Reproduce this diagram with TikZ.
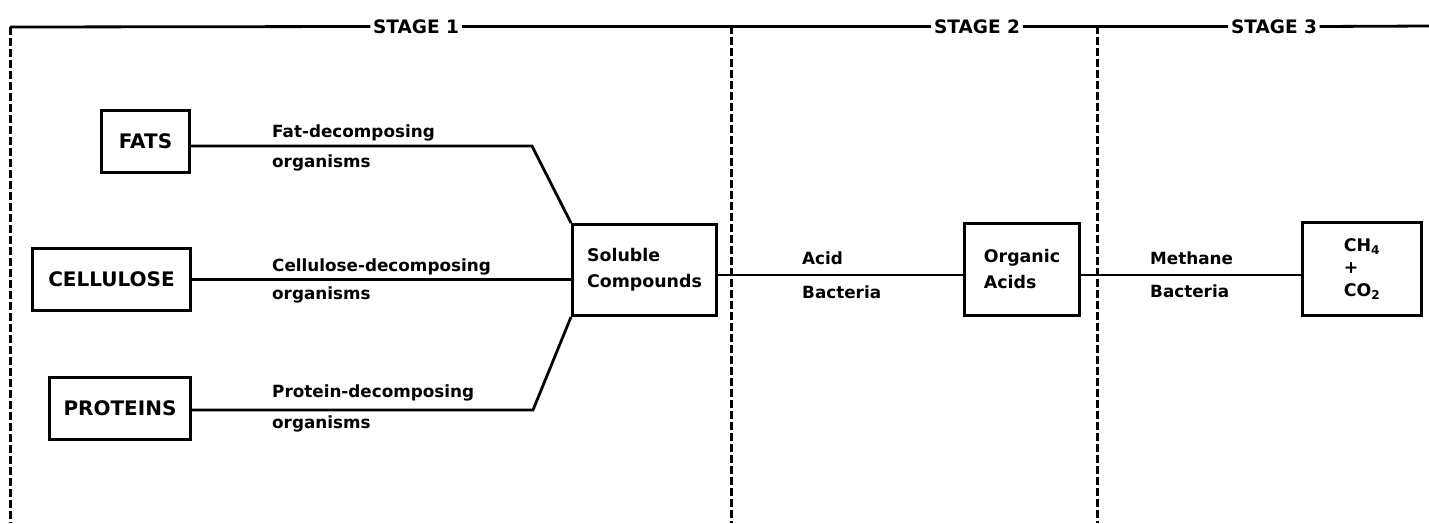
\documentclass[tikz,border=0pt]{standalone}
\usepackage{fontspec}
\setmainfont{DejaVu Sans}
\begin{document}
\begin{tikzpicture}[x=1pt,y=-1pt,
  box/.style={draw, line width=3pt, inner sep=0pt, font=\bfseries\fontsize{20}{24}\selectfont},
  cbox/.style={draw, line width=3pt, inner sep=0pt, align=left, font=\bfseries\fontsize{17.4}{26}\selectfont},
  conn/.style={line width=2.8pt},
  divider/.style={line width=3pt, dash pattern=on 8pt off 3pt},
  lab/.style={anchor=base west, inner sep=0pt, font=\bfseries\fontsize{16.8}{20}\selectfont},
  stage/.style={inner sep=2.5pt, font=\bfseries\fontsize{18.5}{20}\selectfont}]
\useasboundingbox (0,0) rectangle (1429,523);
% stage header
\node[stage] (st1) at (416,26.5) {STAGE 1};
\node[stage] (st2) at (977,26.5) {STAGE 2};
\node[stage] (st3) at (1274,26.5) {STAGE 3};
\coordinate (tl) at (10,27);
\coordinate (tr) at (1429,26);
\coordinate (bl) at (10,523);
\coordinate (d1t) at (731,26);
\coordinate (d1b) at (731,523);
\coordinate (d2t) at (1097,26);
\coordinate (d2b) at (1097,523);
\draw[conn] (st1.west) -- (tl);
\draw[conn] (st1.east) -- (st2.west);
\draw[conn] (st2.east) -- (st3.west);
\draw[conn] (st3.east) -- (tr);
\draw[divider] (tl) -- (bl);
\draw[divider] (d1t) -- (d1b);
\draw[divider] (d2t) -- (d2b);
% boxes
\node[box, minimum width=88pt, minimum height=62pt] (fats) at (145.5,141.5) {FATS};
\node[box, minimum width=158pt, minimum height=62pt] (cell) at (111.5,279.5) {CELLULOSE};
\node[box, minimum width=141pt, minimum height=62pt] (prot) at (120,408.5) {PROTEINS};
\node[cbox, minimum width=144pt, minimum height=91pt] (sol) at (644.5,270) {Soluble\\Compounds};
\node[cbox, minimum width=115pt, minimum height=92pt] (org) at (1022,269.5) {Organic\\Acids};
\node[cbox, minimum width=119pt, minimum height=93pt, font=\bfseries\fontsize{17.4}{22.5}\selectfont] (ch) at (1362,269) {CH\textsubscript{4}\\+\\CO\textsubscript{2}};
% connectors
\coordinate (fk) at (532,146);
\coordinate (pk) at (533,410);
\coordinate (ay) at (0,275);
\draw[conn] (fats.east |- fk) -- (fk) -- (sol.north west);
\draw[conn] (cell.east) -- (cell.east -| sol.west);
\draw[conn] (prot.east |- pk) -- (pk) -- (sol.south west);
\draw[conn] (sol.east |- ay) -- (org.west |- ay);
\draw[conn] (org.east |- ay) -- (ch.west |- ay);
% labels
\node[lab] (l1a) at (272,137) {Fat-decomposing};
\node[lab] (l1b) at (272,167) {organisms};
\node[lab] (l2a) at (272,271) {Cellulose-decomposing};
\node[lab] (l2b) at (272,299) {organisms};
\node[lab] (l3a) at (272,397) {Protein-decomposing};
\node[lab] (l3b) at (272,428) {organisms};
\node[lab] (l4a) at (802,264) {Acid};
\node[lab] (l4b) at (802,298) {Bacteria};
\node[lab] (l5a) at (1150,264) {Methane};
\node[lab] (l5b) at (1150,297) {Bacteria};
\end{tikzpicture}
\end{document}
